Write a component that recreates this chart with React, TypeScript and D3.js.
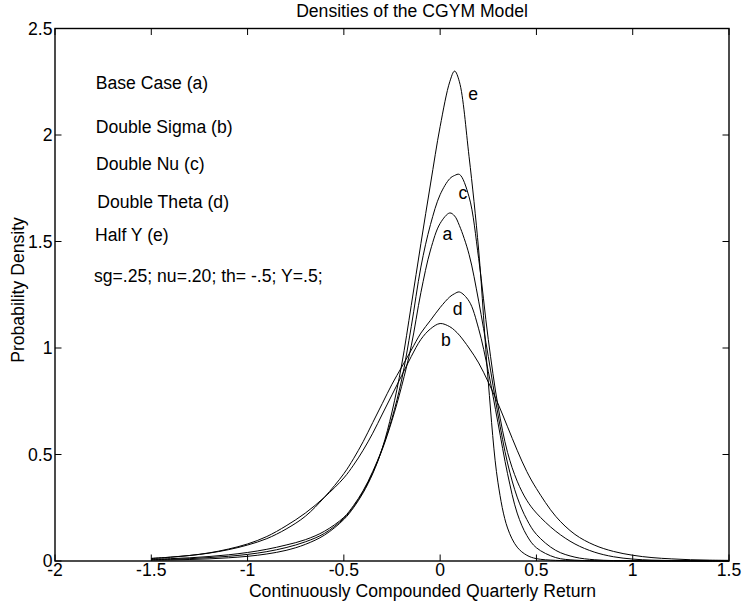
import React from 'react';
import * as d3 from 'd3';

// Shared return grid (x values)
const xGrid = [-1.5,-1.4,-1.3,-1.2,-1.1,-1.0,-0.9,-0.8,-0.7,-0.6,-0.5,-0.45,-0.4,-0.35,-0.3,-0.25,-0.2,-0.15,-0.1,-0.05,0,0.05,0.075,0.1,0.15,0.2,0.25,0.3,0.35,0.4,0.45,0.5,0.6,0.7,0.8,0.9,1.0,1.1,1.2,1.3,1.4,1.5];

// Base Case (a)
const densA = [0.006,0.008,0.011,0.016,0.022,0.031,0.044,0.063,0.09,0.13,0.20,0.255,0.325,0.415,0.525,0.66,0.82,1.01,1.26,1.46,1.585,1.634,1.62,1.575,1.44,1.22,0.96,0.69,0.46,0.30,0.195,0.125,0.05,0.018,0.006,0.002,0.001,0.0005,0.0005,0.0005,0.0005,0.0005];
// Double Sigma (b)
const densB = [0.012,0.018,0.026,0.038,0.056,0.08,0.115,0.165,0.225,0.30,0.39,0.45,0.52,0.60,0.69,0.78,0.87,0.96,1.04,1.09,1.115,1.10,1.083,1.06,1.00,0.93,0.84,0.74,0.63,0.52,0.42,0.34,0.21,0.125,0.075,0.045,0.027,0.016,0.01,0.006,0.004,0.003];
// Double Nu (c)
const densC = [0.008,0.011,0.015,0.021,0.029,0.04,0.055,0.075,0.10,0.14,0.205,0.26,0.33,0.42,0.53,0.67,0.85,1.10,1.38,1.58,1.72,1.795,1.81,1.815,1.71,1.42,1.04,0.73,0.51,0.375,0.285,0.225,0.14,0.08,0.042,0.02,0.009,0.004,0.002,0.001,0.0005,0.0003];
// Double Theta (d)
const densD = [0.012,0.018,0.026,0.037,0.053,0.075,0.105,0.15,0.21,0.30,0.41,0.48,0.56,0.65,0.74,0.83,0.91,0.99,1.07,1.13,1.19,1.24,1.255,1.263,1.22,1.09,0.89,0.65,0.41,0.225,0.12,0.062,0.016,0.004,0.001,0.0003,0.0003,0.0003,0.0003,0.0003,0.0003,0.0003];
// Half Y (e)
const densE = [0.004,0.005,0.007,0.010,0.015,0.022,0.033,0.05,0.078,0.122,0.195,0.25,0.32,0.41,0.53,0.70,0.92,1.20,1.49,1.77,2.04,2.25,2.30,2.25,1.90,1.46,0.84,0.37,0.155,0.065,0.027,0.011,0.003,0.001,0.0005,0.0005,0.0005,0.0005,0.0005,0.0005,0.0005,0.0005];

const allSeries = [densA, densB, densC, densD, densE];

// Curve tags (letter, x, y in data units)
const tagText = ['e', 'c', 'a', 'd', 'b'];
const tagX = [0.146, 0.095, 0.012, 0.066, 0.004];
const tagY = [2.162, 1.70, 1.506, 1.154, 1.008];

const xTicks = [-2, -1.5, -1, -0.5, 0, 0.5, 1, 1.5];
const yTicks = [0, 0.5, 1, 1.5, 2, 2.5];

const notes = ['Base Case (a)', 'Double Sigma (b)', 'Double Nu (c)', 'Double Theta (d)', 'Half Y (e)', 'sg=.25; nu=.20; th= -.5; Y=.5;'];

const titleText = 'Densities of the CGYM Model';
const xLabelText = 'Continuously Compounded Quarterly Return';
const yLabelText = 'Probability Density';

export default function App() {
  const W = 744, H = 605;
  const L = 55, R = 729, T = 28.5, B = 561;
  const x = d3.scaleLinear().domain([-2, 1.5]).range([L, R]);
  const y = d3.scaleLinear().domain([0, 2.5]).range([B, T]);
  const line = d3.line<number>()
    .x((_, i) => x(xGrid[i]))
    .y((d) => y(d))
    .curve(d3.curveCatmullRom.alpha(0.5));

  const font = "'Liberation Sans', Arial, Helvetica, sans-serif";
  const fs = 17.6;
  const tick = 6.5;
  const noteX = [95.7, 95.7, 96, 97.3, 95, 94];
  const noteY = [88.5, 133, 170, 208, 241, 282];

  return (
    <svg width={W} height={H} style={{ position: 'absolute', left: 0, top: 0, background: '#fff' }}
      fontFamily={font} fontSize={fs}>
      <rect x={0} y={0} width={W} height={H} fill="#fff" />
      {allSeries.map((s, i) => (
        <path key={i} d={line(s) || ''} fill="none" stroke="#000" strokeWidth={1} />
      ))}
      <rect x={L} y={T} width={R - L} height={B - T} fill="none" stroke="#000" strokeWidth={1.4} />
      {xTicks.map((v, i) => (
        <g key={'xt' + i}>
          <line x1={x(v)} x2={x(v)} y1={B} y2={B - tick} stroke="#000" strokeWidth={1} />
          <line x1={x(v)} x2={x(v)} y1={T} y2={T + tick} stroke="#000" strokeWidth={1} />
          <text x={x(v)} y={B + 15} textAnchor="middle">{String(v)}</text>
        </g>
      ))}
      {yTicks.map((v, i) => (
        <g key={'yt' + i}>
          <line x1={L} x2={L + tick} y1={y(v)} y2={y(v)} stroke="#000" strokeWidth={1} />
          <line x1={R} x2={R - tick} y1={y(v)} y2={y(v)} stroke="#000" strokeWidth={1} />
          <text x={L - 2.5} y={y(v) + 6} textAnchor="end">{String(v)}</text>
        </g>
      ))}
      {tagText.map((t, i) => (
        <text key={'tg' + i} x={x(tagX[i])} y={y(tagY[i])}>{t}</text>
      ))}
      {notes.map((t, i) => (
        <text key={'n' + i} x={noteX[i]} y={noteY[i]}>{t}</text>
      ))}
      <text x={412} y={17} textAnchor="middle">{titleText}</text>
      <text x={422.5} y={597} textAnchor="middle">{xLabelText}</text>
      <text transform={`translate(24,290) rotate(-90)`} textAnchor="middle">{yLabelText}</text>
    </svg>
  );
}
